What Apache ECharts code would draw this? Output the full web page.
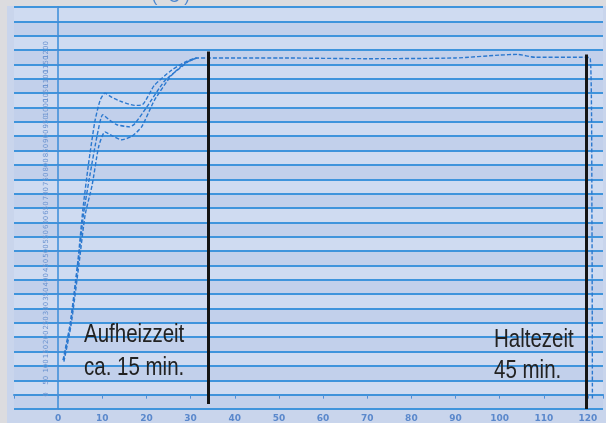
<!DOCTYPE html>
<html>
<head>
<meta charset="utf-8">
<script src="https://cdn.jsdelivr.net/npm/echarts@6/dist/echarts.min.js"></script>
<style>
  html, body { margin: 0; padding: 0; background: #dcdcdf; }
  #chart { width: 606px; height: 423px; }
</style>
</head>
<body>
<div id="chart"></div>
<script>
// time in min, value in grid units (1 unit = one printed line = 50 °C)
var xTicks = [0, 10, 20, 30, 40, 50, 60, 70, 80, 90, 100, 110, 120];
var yStep = 50;

var curveTop = [
  [1.1, 2.4], [2.7, 4.9], [4.5, 9.4], [5.6, 12.9], [6.8, 15.9], [8.3, 19.0],
  [9.5, 20.5], [10.6, 21.0], [12.2, 20.7], [14.4, 20.4], [17.3, 20.15], [19.1, 20.2],
  [21.8, 21.55], [25.7, 22.6], [29.3, 23.25], [31.5, 23.45], [34, 23.45], [50, 23.45],
  [70, 23.4], [90, 23.45], [100, 23.65], [104, 23.7], [108, 23.5], [118, 23.5],
  [120.5, 23.45], [120.9, 12], [121, -0.3]
];
var curveMid = [
  [1.2, 2.4], [2.8, 4.9], [4.6, 9.4], [5.8, 12.7], [7.2, 15.3], [8.8, 18.0],
  [10.1, 19.5], [11.7, 19.1], [13.3, 18.8], [16.2, 18.65], [17.3, 18.85], [20.0, 20.0],
  [24.1, 21.85], [27.0, 22.6], [29.7, 23.25], [31.5, 23.45]
];
var curveLow = [
  [1.3, 2.3], [2.9, 4.8], [4.8, 9.3], [6.1, 12.5], [7.7, 14.6], [9.2, 17.3],
  [10.6, 18.3], [12.4, 18.0], [14.4, 17.75], [16.7, 18.0], [18.9, 18.65], [21.8, 20.5],
  [25.7, 22.25], [28.6, 23.05], [30.9, 23.4], [31.5, 23.45]
];
// end of heating phase and end of holding phase
var phaseMarks = [[34, 23.9, -0.65], [119.5, 23.7, -1]];

var chart = echarts.init(document.getElementById('chart'));

var lineStyle = { color: '#2b78cf', width: 1.4, type: [4, 2] };
var noteFont = '25px "Liberation Sans", Arial, sans-serif';

chart.setOption({
  backgroundColor: '#c9d5ec',
  animation: false,
  grid: { left: 14, right: 0, top: 7, bottom: 3, show: false },
  xAxis: {
    type: 'value',
    min: -10,
    max: 123.4,
    interval: 10,
    axisLine: { onZero: true, lineStyle: { color: '#3f92da', width: 2 } },
    axisTick: { length: 4, lineStyle: { color: '#4f8fd6' } },
    axisLabel: {
      color: '#5a88cc', fontSize: 9, fontWeight: 'bold', margin: 5,
      fontFamily: 'DejaVu Sans',
      formatter: function (v) { return xTicks.indexOf(v) >= 0 ? v : ''; }
    },
    splitLine: { show: false }
  },
  yAxis: {
    type: 'value',
    min: -1,
    max: 27,
    interval: 1,
    axisLine: { onZero: true, lineStyle: { color: '#3a8dd8', width: 1.5 } },
    axisTick: { show: true, length: 3, lineStyle: { color: '#4f8fd6' } },
    axisLabel: {
      color: '#6b93d0', fontSize: 7, rotate: 90, margin: -36,
      hideOverlap: false,
      fontFamily: 'DejaVu Sans',
      formatter: function (v) { return v >= 0 && v <= 24 ? String(v * yStep) : ''; }
    },
    splitLine: { show: true, lineStyle: { color: '#3f94dc', width: 2 } },
    splitArea: { show: true, areaStyle: { color: ['#c2d0eb', '#cfdbf1'] } }
  },
  graphic: [
    { type: 'rect', left: 0, top: 0, shape: { width: 606, height: 6 }, style: { fill: '#dcdcdf' }, z: 100 },
    { type: 'rect', left: 0, top: 0, shape: { width: 7, height: 423 }, style: { fill: '#dcdcdf' }, z: 100 },
    { type: 'text', left: 152, top: -10, z: 101,
      style: { text: '( °C )', fill: '#4a86d0', font: '16px "Liberation Sans"' } },
    { type: 'text', x: 84, y: 323, scaleX: 0.82, z: 50,
      style: { text: 'Aufheizzeit', fill: '#222', font: noteFont } },
    { type: 'text', x: 84, y: 356, scaleX: 0.82, z: 50,
      style: { text: 'ca. 15 min.', fill: '#222', font: noteFont } },
    { type: 'text', x: 494, y: 328, scaleX: 0.82, z: 50,
      style: { text: 'Haltezeit', fill: '#222', font: noteFont } },
    { type: 'text', x: 494, y: 359, scaleX: 0.82, z: 50,
      style: { text: '45 min.', fill: '#222', font: noteFont } }
  ],
  series: [
    {
      type: 'line', data: curveTop, showSymbol: false, smooth: 0.2,
      lineStyle: lineStyle,
      markLine: {
        silent: true,
        symbol: 'none',
        label: { show: false },
        lineStyle: { color: '#141414', width: 3, type: 'solid' },
        data: phaseMarks.map(function (m) {
          return [{ coord: [m[0], m[1]] }, { coord: [m[0], m[2]] }];
        })
      }
    },
    { type: 'line', data: curveMid, showSymbol: false, smooth: 0.2, lineStyle: lineStyle },
    { type: 'line', data: curveLow, showSymbol: false, smooth: 0.2, lineStyle: lineStyle }
  ]
});
</script>
</body>
</html>
